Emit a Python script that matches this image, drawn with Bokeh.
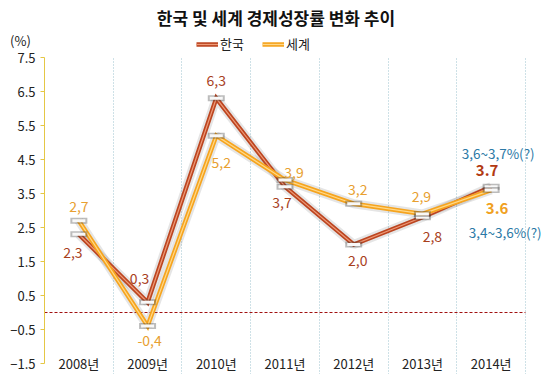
from bokeh.plotting import figure
from bokeh.models import ColumnDataSource, FixedTicker, Label, Legend, LegendItem, Range1d
from bokeh.core.properties import value
from bokeh.embed import file_html
from bokeh.resources import INLINE

# ---- data ----
years = ["2008년", "2009년", "2010년", "2011년", "2012년", "2013년", "2014년"]
korea = [2.3, 0.3, 6.3, 3.7, 2.0, 2.8, 3.7]
world = [2.7, -0.4, 5.2, 3.9, 3.2, 2.9, 3.6]
y_ticks = [-1.5, -0.5, 0.5, 1.5, 2.5, 3.5, 4.5, 5.5, 6.5, 7.5]
series_names = ["한국", "세계"]
korea_outlook = "3,6~3,7%(?)"
world_outlook = "3,4~3,6%(?)"
title_text = "한국 및 세계 경제성장률 변화 추이"
unit_text = "(%)"

# ---- layout / styles ----
W, H = 550, 374
PLOT_LEFT, PLOT_RIGHT = 44, 525      # pixel extent of the category area
PLOT_TOP, PLOT_BOTTOM = 57, 363      # pixel positions of top / bottom y ticks
KR = "Noto Sans CJK KR"
KOREA_COLOR = "#BC4520"
KOREA_INNER = "#EE9A78"
KOREA_TEXT = "#A8401C"
WORLD_COLOR = "#F6A41E"
WORLD_INNER = "#FFD888"
WORLD_TEXT = "#E8A030"
BLUE = "#2B79A6"
AXIS_GOLD = "#E5C745"

korea_dx = [-6, -8, 0, -3, 4, 10, -4]
korea_dy = [18, -24, -18, 16, 16, 19, -16]
world_dx = [0, 2, 5, 9, 4, -1, 6]
world_dy = [-14, 14, 27, -7, -14, -17, 18]

n = len(years)
xs = [i + 0.5 for i in range(n)]

ppx = (PLOT_RIGHT - PLOT_LEFT) / n
ppy = (PLOT_BOTTOM - PLOT_TOP) / (y_ticks[-1] - y_ticks[0])
x_start = -PLOT_LEFT / ppx
x_end = (W - PLOT_LEFT) / ppx
y_end = y_ticks[-1] + PLOT_TOP / ppy
y_start = y_ticks[-1] - (H - PLOT_TOP) / ppy

p = figure(width=W, height=H, output_backend="svg", toolbar_location=None,
           x_range=Range1d(x_start, x_end), y_range=Range1d(y_start, y_end),
           x_axis_location=None, min_border=0)
p.outline_line_color = None
p.background_fill_color = "white"
p.border_fill_color = "white"

# y axis drawn at x = 0 inside the frame
ya = p.yaxis[0]
ya.fixed_location = 0
ya.ticker = FixedTicker(ticks=y_ticks)
ya.bounds = (y_ticks[0], y_ticks[-1])
ya.axis_line_color = AXIS_GOLD
ya.major_tick_line_color = AXIS_GOLD
ya.major_tick_out = 4
ya.major_tick_in = 0
ya.minor_tick_line_color = None
ya.major_label_text_font = KR
ya.major_label_text_font_size = "13px"
ya.major_label_text_color = "#222222"
ya.major_label_standoff = 5

# grids
p.ygrid.grid_line_color = None
p.xgrid.ticker = FixedTicker(ticks=list(range(1, n + 1)))
p.xgrid.cross_bounds = (y_start, y_ticks[-1])
p.xgrid.grid_line_color = "#9CC3CF"
p.xgrid.grid_line_dash = "1 2"
p.xgrid.grid_line_width = 1

# zero line
p.line([0, n], [0, 0], line_color="#A01010", line_dash="3 2", line_width=1)

# lines
src_k = ColumnDataSource(dict(x=xs, y=korea))
src_w = ColumnDataSource(dict(x=xs, y=world))

p.line("x", "y", source=src_k, line_color="#707070", line_alpha=0.18, line_width=9)
p.line("x", "y", source=src_w, line_color="#707070", line_alpha=0.18, line_width=9)

k_main = p.line("x", "y", source=src_k, line_color=KOREA_COLOR, line_width=4.5, line_join="miter")
k_inner = p.line("x", "y", source=src_k, line_color=KOREA_INNER, line_width=1.2, line_join="miter")
w_main = p.line("x", "y", source=src_w, line_color=WORLD_COLOR, line_width=4.5, line_join="miter")
w_inner = p.line("x", "y", source=src_w, line_color=WORLD_INNER, line_width=1.2, line_join="miter")

for src in (src_k, src_w):
    p.scatter("x", "y", source=src, marker="dash", size=17, line_width=6,
              line_color="#404040", line_alpha=0.35)
    p.scatter("x", "y", source=src, marker="dash", size=13, line_width=3,
              line_color="#F8F8F8")


def label_source(vals, dx, dy, color, bold_color):
    texts, styles, sizes, colors = [], [], [], []
    for i, v in enumerate(vals):
        last = i == len(vals) - 1
        t = f"{v:.1f}"
        texts.append(t if last else t.replace(".", ","))
        styles.append("bold" if last else "normal")
        sizes.append("15px" if last else "14px")
        colors.append(bold_color if last else color)
    return ColumnDataSource(dict(x=xs, y=vals, text=texts, dx=dx, dy=dy,
                                 style=styles, size=sizes, color=colors))


for vals, dx, dy, c, bc in ((korea, korea_dx, korea_dy, KOREA_TEXT, "#B23A12"),
                            (world, world_dx, world_dy, WORLD_TEXT, "#F0A020")):
    s = label_source(vals, dx, dy, c, bc)
    p.text("x", "y", text="text", source=s, x_offset="dx", y_offset="dy",
           text_align="center", text_baseline="middle",
           text_font=value(KR), text_font_size="size", text_font_style="style",
           text_color="color")

# category labels (x axis)
cat_src = ColumnDataSource(dict(x=xs, y=[y_ticks[0]] * n, text=years))
p.text("x", "y", text="text", source=cat_src, y_offset=0,
       text_align="center", text_baseline="middle",
       text_font=value(KR), text_font_size="13px", text_color="#222222")

# outlook annotations
p.add_layout(Label(x=xs[-1], y=korea[-1], text=korea_outlook, x_offset=7, y_offset=34,
                   text_align="center", text_baseline="middle",
                   text_font=KR, text_font_size="13.5px", text_color=BLUE))
p.add_layout(Label(x=xs[-1], y=world[-1], text=world_outlook, x_offset=14, y_offset=-42,
                   text_align="center", text_baseline="middle",
                   text_font=KR, text_font_size="13.5px", text_color=BLUE))

# title and unit
p.add_layout(Label(x=n / 2, y=y_ticks[-1], text=title_text, x_offset=-9, y_offset=40,
                   text_align="center", text_baseline="middle",
                   text_font=KR, text_font_size="17px", text_font_style="bold",
                   text_color="#111111"))
p.add_layout(Label(x=0, y=y_ticks[-1], text=unit_text, x_offset=-24, y_offset=17,
                   text_align="center", text_baseline="middle",
                   text_font=KR, text_font_size="13px", text_color="#222222"))

legend = Legend(items=[LegendItem(label=series_names[0], renderers=[k_main, k_inner]),
                       LegendItem(label=series_names[1], renderers=[w_main, w_inner])],
                orientation="horizontal", location=(196, H - 53),
                padding=0, margin=0, spacing=18, label_standoff=2,
                glyph_width=22, glyph_height=16, label_height=16,
                label_text_font=KR, label_text_font_size="13px",
                label_text_color="#222222",
                background_fill_alpha=0, border_line_color=None)
p.add_layout(legend, "center")

open("out.html", "w").write(file_html(p, INLINE))
